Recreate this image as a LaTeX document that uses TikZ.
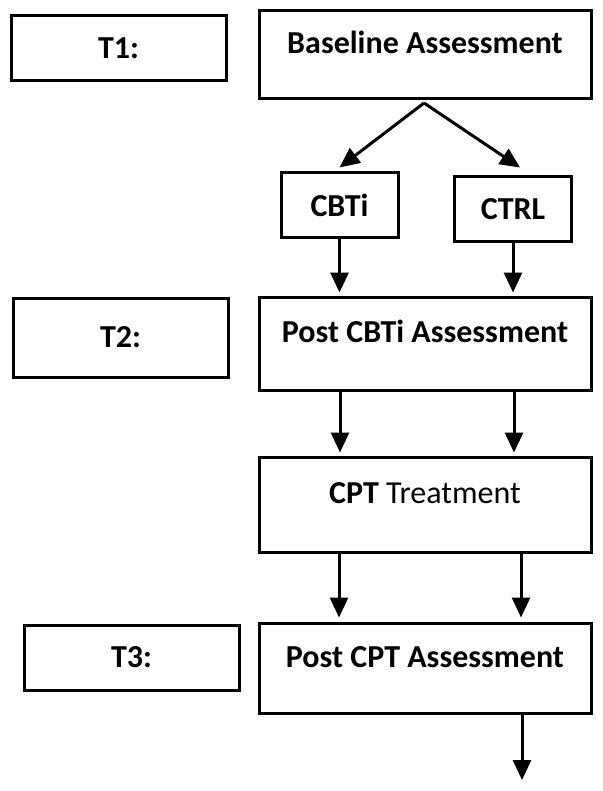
\documentclass[tikz,border=0pt]{standalone}
\usepackage{fontspec}
\setmainfont{Carlito}
\usepackage{tikz}
\usetikzlibrary{arrows.meta}

\begin{document}
\begin{tikzpicture}[x=1pt,y=-1pt, line width=3pt, >={Triangle[width=18pt,length=20pt]},
  every node/.style={draw=black, line width=3pt, inner sep=0pt, font=\bfseries\fontsize{32}{38}\selectfont},
  tbox/.style={minimum width=215pt, minimum height=65pt},
  bigbox/.style={minimum width=332pt, text height=21pt, text depth=23pt},
  smallbox/.style={minimum width=117pt, minimum height=65pt}]
\useasboundingbox (0,0) rectangle (602,791);
\node (t1) at (118.5,48.5) [tbox] {T1:};
\node (base) at (425,55) [bigbox, minimum height=88pt] {Baseline Assessment};
\node (cbti) at (339.5,205.5) [smallbox] {CBTi};
\node (ctrl) at (513,209.5) [smallbox] {CTRL};
\node (t2) at (120.5,337.5) [tbox, minimum height=79pt] {T2:};
\node (pcbti) at (425,343.5) [bigbox, minimum height=93pt] {Post CBTi Assessment};
\node (cpt) at (425,504.5) [bigbox, minimum height=95pt] {CPT \mdseries Treatment};
\node (t3) at (131.5,657.5) [tbox] {T3:};
\node (pcpt) at (425,668) [bigbox, minimum height=90pt] {Post CPT Assessment};
\coordinate (split) at (424,103);
\coordinate (out) at (522,780);
\draw[->] (split) -- ([yshift=4pt]cbti.north);
\draw[->] (split) -- ([xshift=7pt,yshift=8pt]ctrl.north);
\draw[->, shorten >=3pt] (cbti.south) -- (cbti.south |- pcbti.north);
\draw[->, shorten >=3pt] (ctrl.south) -- (ctrl.south |- pcbti.north);
\draw[->, shorten >=3pt] ([xshift=-85pt]pcbti.south) -- ([xshift=-85pt]cpt.north);
\draw[->, shorten >=3pt] ([xshift=89pt]pcbti.south) -- ([xshift=89pt]cpt.north);
\draw[->, shorten >=4pt] ([xshift=-86pt]cpt.south) -- ([xshift=-86pt]pcpt.north);
\draw[->, shorten >=4pt] ([xshift=96pt]cpt.south) -- ([xshift=96pt]pcpt.north);
\draw[->] ([xshift=97pt]pcpt.south) -- (out);
\end{tikzpicture}
\end{document}
